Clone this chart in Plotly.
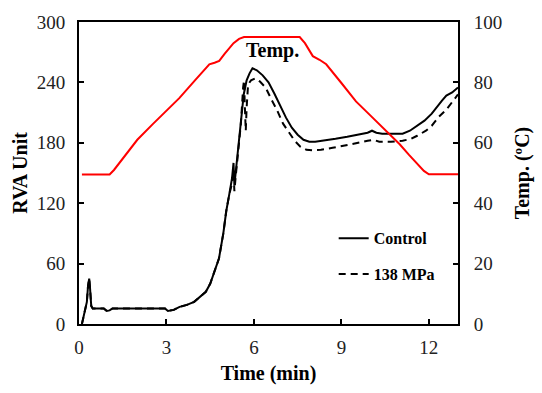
import plotly.graph_objects as go

# Time axis (min) and RVA viscosity values
control_t = [0.1, 0.2, 0.27, 0.31, 0.35, 0.38, 0.42, 0.47, 0.6, 0.85, 0.95, 1.05, 1.15, 1.5, 2.0, 2.5, 2.95,
             3.05, 3.25, 3.45, 3.7, 3.95, 4.15, 4.35, 4.5, 4.65, 4.8, 4.95, 5.05, 5.15, 5.25, 5.3, 5.33, 5.38,
             5.45, 5.55, 5.65, 5.75, 5.85, 5.95, 6.1, 6.3, 6.5, 6.7, 6.9, 7.1, 7.3, 7.5, 7.7, 7.9, 8.1, 8.4,
             8.8, 9.2, 9.6, 9.9, 10.05, 10.2, 10.4, 10.8, 11.1, 11.35, 11.6, 11.85, 12.1, 12.3, 12.45, 12.6,
             12.8, 13.0]
control_v = [0, 12, 22, 38, 45, 35, 18, 15.5, 15.5, 15.5, 13, 13.5, 15.5, 15.5, 15.5, 15.5, 15.5,
             13, 14, 17, 19, 22, 27, 32, 40, 52, 65, 90, 112, 128, 145, 160, 138, 152,
             172, 200, 228, 242, 249, 254, 252, 247, 240, 229, 217, 205, 195, 188, 183, 181, 181, 182,
             184, 186, 188, 190, 192, 190, 189, 189, 189, 192, 197, 202, 209, 217, 222, 227,
             230, 235]

hp_t = [0.1, 0.2, 0.27, 0.31, 0.35, 0.38, 0.42, 0.47, 0.6, 0.85, 0.95, 1.05, 1.15, 1.5, 2.0, 2.5, 2.95,
        3.05, 3.25, 3.45, 3.7, 3.95, 4.15, 4.35, 4.5, 4.65, 4.8, 4.95, 5.05, 5.15, 5.25, 5.3, 5.33, 5.38,
        5.45, 5.55, 5.63, 5.66, 5.69, 5.72, 5.75, 5.8, 5.9, 6.05, 6.2, 6.4, 6.6, 6.8, 7.0, 7.2, 7.4, 7.6,
        7.8, 8.0, 8.3, 8.7, 9.1, 9.5, 9.9, 10.1, 10.3, 10.7, 11.1, 11.4, 11.6, 11.9, 12.1, 12.35, 12.6,
        12.8, 13.0]
hp_v = [0, 12, 22, 38, 45, 35, 18, 15.5, 15.5, 15.5, 13, 13.5, 15.5, 15.5, 15.5, 15.5, 15.5,
        13, 14, 17, 19, 22, 27, 32, 40, 52, 65, 90, 112, 128, 140, 152, 132, 148,
        170, 198, 235, 242, 215, 192, 215, 238, 242, 244, 241, 235, 223, 212, 199, 190, 182, 176,
        173, 172.5, 173, 175, 177, 179.5, 182, 183, 181, 181, 182, 184, 187, 192, 197, 206, 213,
        220, 228]

# Temperature profile (ºC)
temp_t = [0.1, 0.5, 0.8, 1.05, 1.2, 1.4, 1.63, 2.0, 2.53, 3.0, 3.44, 4.0, 4.47, 4.65, 4.81, 5.0, 5.15,
          5.3, 5.49, 5.66, 6.5, 7.57, 7.75, 7.9, 8.02, 8.25, 8.48, 9.0, 9.5, 10.0, 10.52, 10.8, 11.0,
          11.32, 11.5, 11.7, 11.83, 12.0, 13.0]
temp_v = [49.5, 49.5, 49.3, 49.5, 51, 53.5, 56, 61, 66.2, 70.5, 74.8, 80.9, 86, 86.5, 87.1, 89.5, 91.4,
          93, 94.4, 95, 95, 95, 93, 90.5, 88.7, 87.5, 86, 79.8, 73.7, 69, 64, 61.5, 59.5,
          56, 54, 52, 50.7, 49.6, 49.6]

x_ticks = [0, 3, 6, 9, 12]
y_ticks = [0, 60, 120, 180, 240, 300]
y2_ticks = [0, 20, 40, 60, 80, 100]

FONT = "Liberation Serif, Times New Roman, serif"

fig = go.Figure()
fig.add_trace(go.Scatter(x=control_t, y=control_v, mode="lines", name="<b>Control</b>",
                         legendgroup="a",
                         line=dict(color="black", width=2)))
fig.add_trace(go.Scatter(x=hp_t, y=hp_v, mode="lines", name="<b>138 MPa</b>",
                         legendgroup="b",
                         line=dict(color="black", width=2, dash="7px,5px")))
fig.add_trace(go.Scatter(x=temp_t, y=temp_v, mode="lines", name="Temp.", yaxis="y2",
                         showlegend=False, line=dict(color="#ff0000", width=2)))

fig.add_annotation(x=6.65, y=272, xref="x", yref="y", text="<b>Temp.</b>", showarrow=False,
                   font=dict(family=FONT, size=20, color="black"))

axis_common = dict(showline=True, linecolor="black", linewidth=2, ticks="inside", ticklen=5,
                   tickwidth=1.5, tickcolor="black", showgrid=False, zeroline=False,
                   ticklabeloverflow="allow",
                   tickfont=dict(family=FONT, size=19, color="#222"))

TITLE_FONT = dict(family=FONT, size=20, color="black")

fig.update_layout(
    width=542, height=393,
    margin=dict(l=79, r=82, t=15, b=67, pad=0),
    plot_bgcolor="white", paper_bgcolor="white",
    xaxis=dict(range=[0, 13], tickvals=x_ticks, mirror=True, ticklabelstandoff=5,
               title=dict(text="<b>Time (min)</b>", font=TITLE_FONT, standoff=9),
               **axis_common),
    yaxis=dict(range=[0, 300], tickvals=y_ticks, ticklabelstandoff=8,
               title=dict(text="<b>RVA Unit</b>", font=TITLE_FONT, standoff=4),
               **axis_common),
    yaxis2=dict(range=[0, 100], tickvals=y2_ticks, overlaying="y", side="right", ticklabelstandoff=10,
                title=dict(text="<b>Temp. (ºC)</b>", font=TITLE_FONT, standoff=14),
                **axis_common),
    legend=dict(x=0.672, y=0.34, xanchor="left", yanchor="top", bgcolor="rgba(0,0,0,0)",
                font=dict(family=FONT, size=16, color="black"), tracegroupgap=12),
    showlegend=True,
)

fig.write_html("out.html", config={"displayModeBar": False},
               post_script="document.body.style.margin='0';document.body.style.overflow='hidden';")
